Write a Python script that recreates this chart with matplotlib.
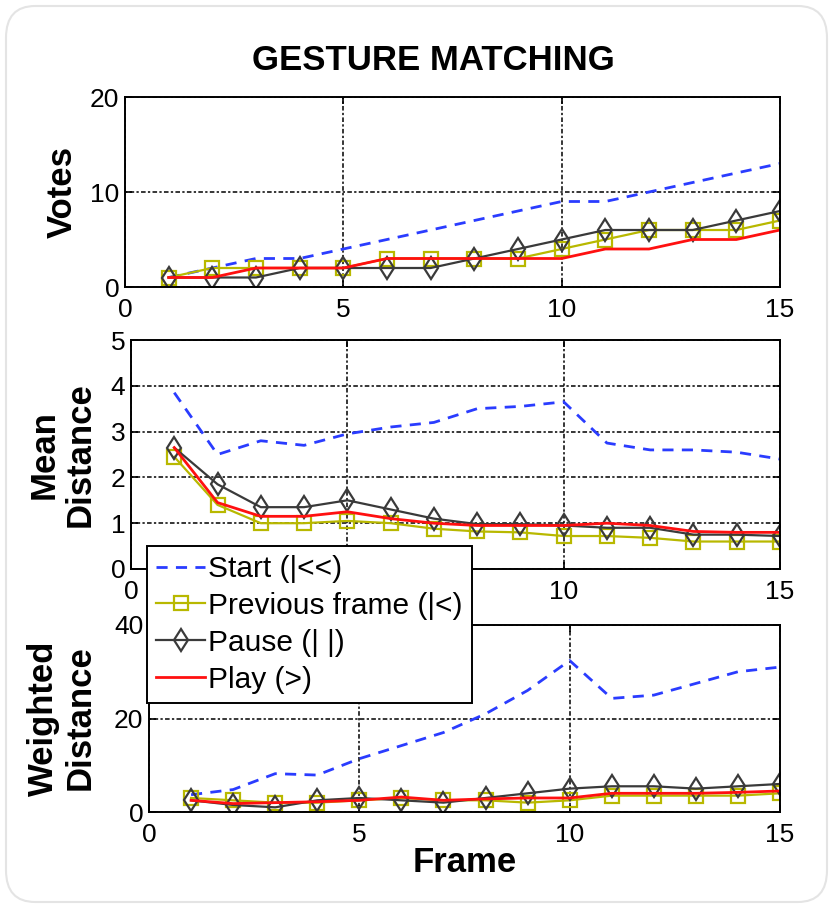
import matplotlib
matplotlib.use("Agg")
import matplotlib.pyplot as plt
from matplotlib.patches import FancyBboxPatch

plt.rcParams['font.family'] = ['Liberation Sans', 'DejaVu Sans']

frames = list(range(1, 16))

# Votes
votes_start = [1, 2, 3, 3, 4, 5, 6, 7, 8, 9, 9, 10, 11, 12, 13]
votes_prev = [1, 2, 2, 2, 2, 3, 3, 3, 3, 4, 5, 6, 6, 6, 7]
votes_pause = [1, 1, 1, 2, 2, 2, 2, 3, 4, 5, 6, 6, 6, 7, 8]
votes_play = [1, 1, 2, 2, 2, 3, 3, 3, 3, 3, 4, 4, 5, 5, 6]

# Mean distance
mean_start = [3.85, 2.5, 2.8, 2.7, 2.95, 3.1, 3.2, 3.5, 3.55, 3.65, 2.75, 2.6, 2.6, 2.55, 2.4]
mean_prev = [2.45, 1.4, 1.0, 1.0, 1.05, 1.0, 0.88, 0.82, 0.8, 0.72, 0.72, 0.68, 0.6, 0.6, 0.6]
mean_pause = [2.65, 1.85, 1.35, 1.35, 1.5, 1.3, 1.1, 0.98, 0.98, 0.95, 0.9, 0.9, 0.75, 0.75, 0.72]
mean_play = [2.65, 1.45, 1.15, 1.15, 1.25, 1.1, 1.0, 0.95, 0.95, 0.95, 1.0, 0.95, 0.82, 0.8, 0.8]

# Weighted distance
wd_start = [3.7, 4.8, 8.2, 7.9, 11.4, 14.2, 17.0, 21.0, 26.0, 32.4, 24.3, 25.0, 27.5, 30.0, 31.0]
wd_prev = [3.0, 2.5, 2.0, 2.0, 2.5, 3.0, 2.5, 2.5, 2.0, 2.5, 3.5, 3.5, 3.5, 3.5, 4.0]
wd_pause = [2.5, 1.5, 1.0, 2.5, 3.0, 2.5, 2.0, 3.0, 4.0, 5.0, 5.5, 5.5, 5.0, 5.5, 6.0]
wd_play = [2.5, 1.8, 2.0, 2.2, 2.5, 3.2, 2.5, 2.8, 3.0, 3.0, 4.0, 4.0, 4.0, 4.2, 4.5]

series_names = ['Start (|<<)', 'Previous frame (|<)', 'Pause (| |)', 'Play (>)']
ylabels = ['Votes', 'Mean\nDistance', 'Weighted\nDistance']
yticks = [[0, 10, 20], [0, 1, 2, 3, 4, 5], [0, 20, 40]]
ylims = [(0, 20), (0, 5), (0, 40)]
xticks = [0, 5, 10, 15]

W, H = 833, 908
fig = plt.figure(figsize=(W / 100, H / 100), dpi=100)

# rounded outer border
fig.patches.append(FancyBboxPatch((6 / W, 6 / H), 1 - 12 / W, 1 - 12 / H,
                                  boxstyle="round,pad=0,rounding_size=0.035",
                                  transform=fig.transFigure, fill=False,
                                  edgecolor='#e4e4e4', linewidth=1.5))

def box(l, t, r, b):
    return [l / W, 1 - b / H, (r - l) / W, (b - t) / H]

axes_px = [(125, 97, 780, 287), (131, 340, 780, 569), (149, 625, 780, 812)]
data = [(votes_start, votes_prev, votes_pause, votes_play),
        (mean_start, mean_prev, mean_pause, mean_play),
        (wd_start, wd_prev, wd_pause, wd_play)]
label_y = [192, 455, 718]

handles = None
axes = []
for i, (px, d) in enumerate(zip(axes_px, data)):
    ax = fig.add_axes(box(*px))
    axes.append(ax)
    s, p, pa, pl = d
    h1, = ax.plot(frames, s, color='#2a3cff', lw=2.0, ls=(0, (4, 3)), label=series_names[0])
    h2, = ax.plot(frames, p, color='#b8b800', lw=1.6, marker='s', ms=9.5, mfc='none',
                  mec='#b8b800', mew=1.6, label=series_names[1])
    h3, = ax.plot(frames, pa, color='#3a3a3a', lw=1.6, marker='d', ms=11.5, mfc='none',
                  mec='#3a3a3a', mew=1.6, label=series_names[2])
    h4, = ax.plot(frames, pl, color='#ff1010', lw=2.0, label=series_names[3])
    handles = [h1, h2, h3, h4]
    ax.set_xlim(0, 15)
    ax.set_ylim(*ylims[i])
    ax.set_xticks(xticks)
    ax.set_yticks(yticks[i])
    ax.grid(True, color='black', lw=1.1, ls=(0, (1.5, 1.5, 3, 1.5)))
    ax.tick_params(direction='in', length=5, width=1.2, top=True, right=True,
                   labelsize=19, pad=4)
    ax.tick_params(axis='x', pad=8)
    for sp in ax.spines.values():
        sp.set_linewidth(1.4)
    fig.text(62 / W, 1 - label_y[i] / H, ylabels[i], rotation=90, ha='center', va='center',
             multialignment='center', fontsize=25, fontweight='bold', linespacing=1.12)

# the "5" under the middle panel is hidden behind the legend in the reference
axes[1].set_xticklabels(['0', '', '10', '15'])

fig.text(433 / W, 1 - 60 / H, 'GESTURE MATCHING', ha='center', va='center',
         fontsize=25, fontweight='bold')
fig.text(465 / W, 1 - 862 / H, 'Frame', ha='center', va='center',
         fontsize=25, fontweight='bold')

leg = fig.legend(handles=handles, labels=series_names, loc='upper left',
                 bbox_to_anchor=(147 / W, 1 - 546 / H), borderaxespad=0,
                 fontsize=21.5, frameon=True, fancybox=False, handlelength=1.65,
                 handletextpad=0.1, borderpad=0.3, labelspacing=0.3)
leg.get_frame().set_edgecolor('black')
leg.get_frame().set_linewidth(1.4)
leg.get_frame().set_alpha(1)

fig.savefig('out.png', dpi=100)
